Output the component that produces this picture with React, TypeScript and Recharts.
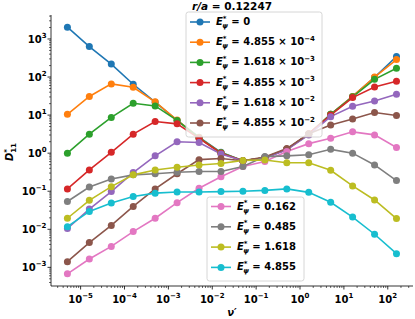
import React from "react";
import { LineChart, Line, XAxis, YAxis } from "recharts";

// collision frequency nu' (x), log-spaced points
const nu = [5e-6, 1.58e-5, 5e-5, 1.58e-4, 5e-4, 1.58e-3, 5e-3, 1.58e-2, 5e-2, 0.158, 0.5, 1.58, 5, 15.8, 50, 158];

// D*_11 for each E*_psi
const e0 = [2040, 631, 219, 64.6, 21.9, 7.24, 2.63, 1.05, 0.63, 0.76, 1.26, 3.16, 10.5, 30.9, 97.7, 347];
const e4855m4 = [10.5, 30.9, 66.1, 53.7, 22.4, 7.41, 2.57, 1.02, 0.63, 0.76, 1.26, 3.16, 10.5, 30.9, 100, 288];
const e1618m3 = [1.0, 3.16, 8.71, 20.4, 17.4, 7.24, 2.51, 1.02, 0.63, 0.76, 1.26, 3.16, 10.5, 30.2, 87.1, 170];
const e4855m3 = [0.115, 0.363, 1.05, 3.16, 6.76, 5.89, 2.45, 1.0, 0.63, 0.76, 1.26, 3.24, 10.0, 28.8, 55.0, 77.6];
const e1618m2 = [0.0105, 0.0339, 0.0977, 0.309, 0.851, 2.0, 1.91, 0.955, 0.63, 0.74, 1.23, 3.02, 9.12, 17.0, 23.4, 35.5];
const e4855m2 = [0.00141, 0.00447, 0.0126, 0.0398, 0.115, 0.288, 0.676, 0.724, 0.63, 0.79, 1.32, 3.24, 5.5, 7.94, 11.7, 9.77];
const e0162 = [0.000676, 0.00166, 0.00355, 0.00871, 0.0195, 0.0501, 0.12, 0.24, 0.447, 0.603, 1.1, 1.78, 2.45, 3.63, 3.02, 1.41];
const e0485 = [0.0537, 0.129, 0.209, 0.269, 0.288, 0.316, 0.331, 0.331, 0.447, 0.813, 0.851, 0.912, 1.26, 1.0, 0.49, 0.191];
const e1618 = [0.0195, 0.0575, 0.132, 0.269, 0.363, 0.427, 0.49, 0.537, 0.646, 0.661, 0.562, 0.562, 0.355, 0.138, 0.0589, 0.0191];
const e4855 = [0.0117, 0.0295, 0.049, 0.0724, 0.0891, 0.0955, 0.0955, 0.0977, 0.1, 0.105, 0.115, 0.0933, 0.0513, 0.0209, 0.00741, 0.00229];

const seriesValues = [e0, e4855m4, e1618m3, e4855m3, e1618m2, e4855m2, e0162, e0485, e1618, e4855];
const seriesColors = ["#1f77b4", "#ff7f0e", "#2ca02c", "#d62728", "#9467bd", "#8c564b", "#e377c2", "#7f7f7f", "#bcbd22", "#17becf"];
// legend labels: mantissa and optional power of ten
const seriesMant = ["0", "4.855", "1.618", "4.855", "1.618", "4.855", "0.162", "0.485", "1.618", "4.855"];
const seriesExp = ["", "−4", "−3", "−3", "−2", "−2", "", "", "", ""];

const xMajor = [1e-5, 1e-4, 1e-3, 1e-2, 1e-1, 1, 10, 100];
const xMajorExp = ["−5", "−4", "−3", "−2", "−1", "0", "1", "2"];
const yMajor = [1e-3, 1e-2, 1e-1, 1, 10, 100, 1000];
const yMajorExp = ["−3", "−2", "−1", "0", "1", "2", "3"];

const xDomain = [10 ** -5.675, 10 ** 2.575];
const yDomain = [10 ** -3.49, 10 ** 3.63];

const minorTicks = (lo: number, hi: number) => {
  const out: number[] = [];
  for (let e = -7; e <= 4; e++) {
    for (let m = 2; m <= 9; m++) {
      const v = m * 10 ** e;
      if (v > lo && v < hi) out.push(v);
    }
  }
  return out;
};

const xTicks = [...xMajor, ...minorTicks(xDomain[0], xDomain[1])];
const yTicks = [...yMajor, ...minorTicks(yDomain[0], yDomain[1])];

const chartData = nu.map((v, i) => {
  const row: Record<string, number> = { nu: v };
  seriesValues.forEach((s, j) => {
    row["s" + j] = s[i];
  });
  return row;
});

const FONT = "DejaVu Sans";

const findMajor = (arr: number[], v: number) =>
  arr.findIndex((m) => Math.abs(v / m - 1) < 1e-6);

const XTick = (props: any) => {
  const { x, y, payload } = props;
  const idx = findMajor(xMajor, payload.value);
  const major = idx >= 0;
  return (
    <g>
      <line x1={x} y1={y} x2={x} y2={y + (major ? 3.5 : 2)} stroke="#000" strokeWidth={major ? 0.8 : 0.6} />
      {major && (
        <text x={x} y={y + 16.5} textAnchor="middle" fontFamily={FONT} fontWeight="bold" fontSize={10} fill="#000">
          <tspan>10</tspan>
          <tspan fontSize={7} dy={-5}>{xMajorExp[idx]}</tspan>
        </text>
      )}
    </g>
  );
};

const YTick = (props: any) => {
  const { x, y, payload } = props;
  const idx = findMajor(yMajor, payload.value);
  const major = idx >= 0;
  return (
    <g>
      <line x1={x} y1={y} x2={x - (major ? 3.5 : 2)} y2={y} stroke="#000" strokeWidth={major ? 0.8 : 0.6} />
      {major && (
        <text x={x - 4.5} y={y + 3.7} textAnchor="end" fontFamily={FONT} fontWeight="bold" fontSize={10} fill="#000">
          <tspan>10</tspan>
          <tspan fontSize={7} dy={-5}>{yMajorExp[idx]}</tspan>
        </text>
      )}
    </g>
  );
};

const LegendLabel = (props: { x: number; y: number; mant: string; exp: string }) => {
  const { x, y, mant, exp } = props;
  return (
    <text x={x} y={y} fontFamily={FONT} fontWeight="bold" fontSize={10} fill="#000">
      <tspan fontStyle="italic">E</tspan>
      <tspan fontSize={7} dy={-4.5}>*</tspan>
      <tspan fontSize={7} fontStyle="italic" dx={-4.2} dy={7.5}>ψ</tspan>
      <tspan dy={-3}>{" = " + mant}</tspan>
      {exp && <tspan>{" × 10"}</tspan>}
      {exp && (
        <tspan fontSize={7} dy={-4.5}>
          {exp}
        </tspan>
      )}
    </text>
  );
};

const LegendBox = (props: { x: number; y: number; w: number; h: number; rowY: number; gap: number; items: number[] }) => {
  const { x, y, w, h, rowY, gap, items } = props;
  return (
    <g>
      <rect x={x} y={y} width={w} height={h} rx={2.5} fill="#fff" fillOpacity={0.8} stroke="#cccccc" strokeWidth={0.8} />
      {items.map((s, i) => {
        const cy = rowY + i * gap;
        return (
          <g key={s}>
            <line x1={x + 4} x2={x + 24} y1={cy} y2={cy} stroke={seriesColors[s]} strokeWidth={1.6} />
            <circle cx={x + 14} cy={cy} r={3.5} fill={seriesColors[s]} />
            <LegendLabel x={x + 30} y={cy + 3} mant={seriesMant[s]} exp={seriesExp[s]} />
          </g>
        );
      })}
    </g>
  );
};

export default function App() {
  return (
    <div style={{ position: "absolute", left: 0, top: 0, width: 415, height: 319, background: "#fff" }}>
      <LineChart width={415} height={319} data={chartData} margin={{ top: 15, right: 2, left: 0, bottom: 0 }}>
        <XAxis
          dataKey="nu"
          type="number"
          scale="log"
          domain={xDomain}
          allowDataOverflow
          ticks={xTicks}
          interval={0}
          tickSize={0}
          tickMargin={0}
          tickLine={false}
          tick={<XTick />}
          height={33}
          axisLine={{ stroke: "#000", strokeWidth: 0.8 }}
        />
        <XAxis
          xAxisId="top"
          orientation="top"
          dataKey="nu"
          type="number"
          scale="log"
          domain={xDomain}
          allowDataOverflow
          height={0}
          tick={false}
          tickLine={false}
          axisLine={{ stroke: "#000", strokeWidth: 0.8 }}
        />
        <YAxis
          type="number"
          scale="log"
          domain={yDomain}
          allowDataOverflow
          ticks={yTicks}
          interval={0}
          tickSize={0}
          tickMargin={0}
          tickLine={false}
          tick={<YTick />}
          width={51}
          axisLine={{ stroke: "#000", strokeWidth: 0.8 }}
        />
        <YAxis
          yAxisId="right"
          orientation="right"
          type="number"
          scale="log"
          domain={yDomain}
          allowDataOverflow
          width={0}
          tick={false}
          tickLine={false}
          axisLine={{ stroke: "#000", strokeWidth: 0.8 }}
        />
        {seriesValues.map((_, j) => (
          <Line
            key={j}
            dataKey={"s" + j}
            stroke={seriesColors[j]}
            strokeWidth={1.6}
            dot={{ r: 3.5, fill: seriesColors[j], stroke: seriesColors[j], strokeWidth: 0 }}
            activeDot={false}
            isAnimationActive={false}
          />
        ))}
      </LineChart>
      <svg width={415} height={319} style={{ position: "absolute", left: 0, top: 0, pointerEvents: "none" }}>
        <text x={232} y={9.5} textAnchor="middle" fontFamily={FONT} fontWeight="bold" fontSize={10.5} fill="#000">
          <tspan fontStyle="italic">r/a</tspan>
          <tspan>{" = 0.12247"}</tspan>
        </text>
        <text x={232} y={316} textAnchor="middle" fontFamily={FONT} fontWeight="bold" fontStyle="italic" fontSize={10} fill="#000">
          ν′
        </text>
        <g transform="translate(13,152) rotate(-90)">
          <text x={0} y={0} textAnchor="middle" fontFamily={FONT} fontWeight="bold" fontSize={10} fill="#000">
            <tspan fontStyle="italic">D</tspan>
            <tspan fontSize={7} dy={-4}>*</tspan>
            <tspan fontSize={7} dx={-3.8} dy={7}>11</tspan>
          </text>
        </g>
        <LegendBox x={186} y={12} w={136} h={125} rowY={22} gap={20.2} items={[0, 1, 2, 3, 4, 5]} />
        <LegendBox x={207} y={197} w={97} h={84} rowY={206.5} gap={20.3} items={[6, 7, 8, 9]} />
      </svg>
    </div>
  );
}
